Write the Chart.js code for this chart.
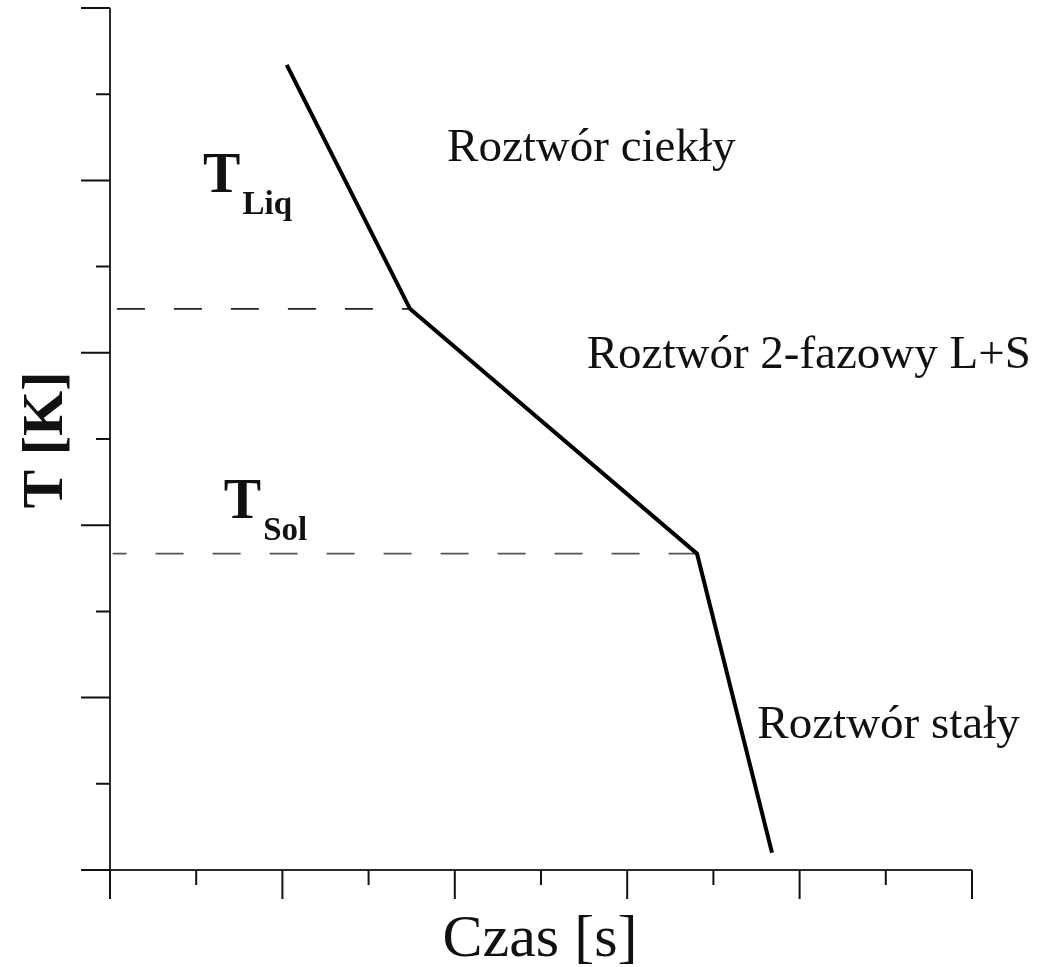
<!DOCTYPE html>
<html>
<head>
<meta charset="utf-8">
<script src="https://cdn.jsdelivr.net/npm/chart.js@4/dist/chart.umd.min.js"></script>
<style>
    html, body { margin: 0; padding: 0; background: #fff; }
    #wrap { width: 1045px; height: 967px; position: relative; }
</style>
</head>
<body>
<div id="wrap"><canvas id="coolingChart"></canvas></div>
<script>
// Cooling curve (time vs temperature), values in axis units 0..10
const timeValues = [2.05, 3.48, 6.81, 7.68];
const tempValues = [9.34, 6.51, 3.67, 0.20];

// Horizontal guide lines: liquidus and solidus
const liqLine = { x: [0.08, 3.48], y: 6.51 };
const solLine = { x: [0.03, 6.93], y: 3.67 };

// Axis ticks (no labels in the original)
const majorTicks = [0, 2, 4, 6, 8, 10];
const minorTicks = [1, 3, 5, 7, 9];

const serif = '"Liberation Serif", "Times New Roman", serif';

// Region labels
const regionLabels = [
    { text: 'Roztwór ciekły', x: 3.91, y: 8.23 },
    { text: 'Roztwór 2-fazowy L+S', x: 5.53, y: 5.82 },
    { text: 'Roztwór stały', x: 7.51, y: 1.53 }
];
const tempLabels = [
    { main: 'T', sub: 'Liq', x: 1.08, y: 7.87 },
    { main: 'T', sub: 'Sol', x: 1.32, y: 4.08 }
];

// Axes, ticks and text drawn on top of the chart area
const decorPlugin = {
    id: 'decor',
    afterDraw(chart) {
        const ctx = chart.ctx;
        const xs = chart.scales.x;
        const ys = chart.scales.y;
        const x0 = xs.getPixelForValue(0);
        const y0 = ys.getPixelForValue(0);
        const x1 = xs.getPixelForValue(10);
        const y1 = ys.getPixelForValue(10);

        ctx.save();
        // axis lines
        ctx.strokeStyle = '#2a2a2a';
        ctx.lineWidth = 2;
        ctx.beginPath();
        ctx.moveTo(x0, y0);
        ctx.lineTo(x1, y0);
        ctx.moveTo(x0, y0);
        ctx.lineTo(x0, y1);
        ctx.stroke();

        // ticks
        ctx.strokeStyle = '#111';
        ctx.beginPath();
        majorTicks.forEach(v => {
            const px = xs.getPixelForValue(v);
            ctx.moveTo(px, y0);
            ctx.lineTo(px, y0 + 29);
            const py = ys.getPixelForValue(v);
            ctx.moveTo(x0, py);
            ctx.lineTo(x0 - 29, py);
        });
        minorTicks.forEach(v => {
            const px = xs.getPixelForValue(v);
            ctx.moveTo(px, y0);
            ctx.lineTo(px, y0 + 15);
            const py = ys.getPixelForValue(v);
            ctx.moveTo(x0, py);
            ctx.lineTo(x0 - 14, py);
        });
        ctx.stroke();

        ctx.fillStyle = '#111';
        ctx.textBaseline = 'alphabetic';

        // region labels
        ctx.font = '47px ' + serif;
        ctx.textAlign = 'left';
        regionLabels.forEach(l => {
            ctx.fillText(l.text, xs.getPixelForValue(l.x), ys.getPixelForValue(l.y));
        });

        // T_Liq / T_Sol
        tempLabels.forEach(l => {
            const px = xs.getPixelForValue(l.x);
            const py = ys.getPixelForValue(l.y);
            ctx.font = 'bold 56px ' + serif;
            ctx.fillText(l.main, px, py);
            const w = ctx.measureText(l.main).width;
            ctx.font = 'bold 33px ' + serif;
            ctx.fillText(l.sub, px + w + 2, py + 22);
        });

        // axis titles
        ctx.font = '60px ' + serif;
        ctx.textAlign = 'center';
        ctx.fillText('Czas [s]', (x0 + x1) / 2 - 1, 956);

        ctx.save();
        ctx.translate(62, 440);
        ctx.rotate(-Math.PI / 2);
        ctx.font = 'bold 58px ' + serif;
        ctx.fillText('T [K]', 0, 0);
        ctx.restore();

        ctx.restore();
    }
};

function initCoolingChart() {
    const coolingCtx = document.getElementById('coolingChart').getContext('2d');
    return new Chart(coolingCtx, {
        type: 'scatter',
        data: {
            datasets: [{
                label: 'Krzywa',
                data: timeValues.map((t, i) => ({ x: t, y: tempValues[i] })),
                showLine: true,
                borderColor: '#000',
                borderWidth: 4,
                pointRadius: 0,
                tension: 0
            }, {
                label: 'TLiq',
                data: liqLine.x.map(x => ({ x: x, y: liqLine.y })),
                showLine: true,
                borderColor: '#222',
                borderWidth: 1.6,
                borderDash: [28, 29],
                borderDashOffset: 0,
                pointRadius: 0
            }, {
                label: 'TSol',
                data: solLine.x.map(x => ({ x: x, y: solLine.y })),
                showLine: true,
                borderColor: '#555',
                borderWidth: 1.8,
                borderDash: [28, 29],
                borderDashOffset: 14,
                pointRadius: 0
            }]
        },
        options: {
            responsive: true,
            maintainAspectRatio: false,
            animation: false,
            layout: {
                padding: { left: 110, right: 73, top: 8, bottom: 97 }
            },
            plugins: {
                legend: { display: false },
                tooltip: { enabled: false }
            },
            scales: {
                x: { type: 'linear', min: 0, max: 10, display: false },
                y: { type: 'linear', min: 0, max: 10, display: false }
            }
        },
        plugins: [decorPlugin]
    });
}

initCoolingChart();
</script>
</body>
</html>
